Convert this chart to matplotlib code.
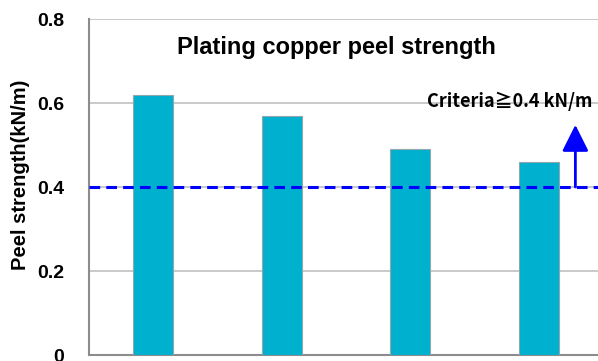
import matplotlib
matplotlib.use("Agg")
import matplotlib.pyplot as plt

samples = ["A", "B", "C", "D"]
peel_strength = [0.62, 0.57, 0.49, 0.46]
criteria = 0.4
y_ticks = [0, 0.2, 0.4, 0.6, 0.8]
y_tick_labels = ["0", "0.2", "0.4", "0.6", "0.8"]

plt.rcParams["font.family"] = ["Liberation Sans", "DejaVu Sans"]

fig = plt.figure(figsize=(5.98, 3.61), dpi=100)
ax = fig.add_axes([89 / 598, 6 / 361, 514 / 598, 336 / 361])

x = list(range(len(samples)))
ax.bar(x, peel_strength, width=0.31, color="#00B0CF", edgecolor="#8FA8B0",
       linewidth=0.8, zorder=3)

ax.set_xlim(-0.5, len(samples) - 0.5)
ax.set_ylim(0, 0.8)
ax.set_yticks(y_ticks)
ax.set_yticklabels(y_tick_labels, fontsize=14, fontweight="bold")
ax.set_xticks([])
ax.tick_params(axis="y", length=0, pad=18)
ax.yaxis.grid(True, color="#C0C0C0", linewidth=1.2, zorder=0)

for side in ("top", "right"):
    ax.spines[side].set_visible(False)
for side in ("left", "bottom"):
    ax.spines[side].set_color("#8C8C8C")
    ax.spines[side].set_linewidth(1.5)

fig.text(21 / 598, 1 - 175 / 361, "Peel strength(kN/m)", rotation=90,
         ha="center", va="center", fontsize=14.5, fontweight="bold")

# criteria line and arrow
ax.axhline(criteria, color="#0000FF", linestyle=(0, (3.5, 2)), linewidth=2.2, zorder=4)
ax.annotate("", xy=(3.285, 0.548), xytext=(3.285, criteria),
            arrowprops=dict(arrowstyle="-|>,head_length=0.9,head_width=0.45",
                            color="#0000FF", lw=2,
                            mutation_scale=18, shrinkA=0, shrinkB=0), zorder=5)
ax.text(3.42, 0.605, "Criteria≧0.4 kN/m", ha="right", va="center",
        fontsize=13, fontweight="bold",
        family=["Noto Sans CJK JP", "DejaVu Sans"], zorder=6)

ax.text(1.425, 0.733, "Plating copper peel strength", ha="center", va="center",
        fontsize=17, fontweight="bold")

fig.savefig("out.png", dpi=100)
